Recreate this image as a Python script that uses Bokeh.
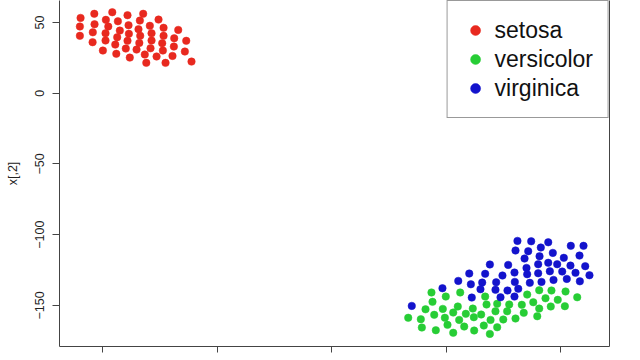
from bokeh.plotting import figure
from bokeh.models import (ColumnDataSource, Legend, LegendItem, LinearAxis,
                          FixedTicker, Range1d)
from bokeh.embed import file_html
from bokeh.resources import INLINE

species = ["setosa", "versicolor", "virginica"]
colors = ["#E8291F", "#27CD35", "#1313CC"]

setosa_x = [-21.92, -21.98, -21.98, -20.72, -20.70, -20.85, -20.87, -19.97, -19.71, -19.50,
            -19.74, -19.74, -19.15, -18.66, -18.49, -18.72, -18.89, -18.80, -17.82, -17.73,
            -17.70, -17.82, -17.97, -17.62, -16.74, -16.45, -16.86, -16.71, -16.79, -17.03,
            -15.87, -15.72, -15.72, -15.81, -16.31, -16.18, -15.11, -14.67, -14.67, -14.79,
            -14.73, -15.28, -14.50, -13.39, -13.74, -13.77, -13.89, -12.69, -12.81, -12.23]
setosa_y = [53.3, 47.2, 40.6, 56.2, 48.8, 43.1, 36.1, 30.2, 51.9, 47.2,
            42.4, 37.3, 57.3, 50.9, 44.3, 39.6, 34.4, 27.9, 55.2, 48.1,
            42.0, 37.1, 31.6, 25.2, 51.4, 56.2, 45.3, 40.6, 35.6, 30.9,
            47.7, 42.4, 37.3, 31.8, 27.4, 21.5, 52.1, 46.3, 40.6, 35.4,
            30.2, 26.0, 21.5, 44.8, 38.9, 33.0, 26.4, 37.1, 29.5, 22.4]

versicolor_x = [8.73, 9.98, 11.24, 8.82, 13.42, 17.09, 18.14, 19.21, 20.44, 21.46,
                18.69, 19.76, 8.21, 9.72, 11.03, 12.34, 13.54, 14.47, 15.52, 16.62,
                17.62, 18.14, 19.15, 20.38, 6.70, 7.80, 8.97, 9.90, 10.63, 11.73,
                12.43, 13.07, 14.32, 15.34, 16.79, 17.97, 16.07, 15.00, 13.89, 11.15,
                7.89, 9.11, 10.13, 11.59, 10.63, 12.46, 13.30, 13.83, 14.47]
versicolor_y = [-140.9, -143.8, -140.9, -147.5, -143.8, -142.4, -139.3, -139.5, -140.2, -144.3,
                -145.0, -146.1, -152.8, -152.5, -150.8, -152.3, -149.4, -148.9, -149.4, -149.6,
                -147.8, -152.3, -150.8, -150.6, -158.8, -159.8, -156.7, -158.8, -155.1, -156.0,
                -158.4, -156.5, -154.2, -154.2, -155.3, -157.7, -159.3, -160.0, -160.3, -160.3,
                -165.7, -167.6, -163.8, -165.0, -169.4, -167.8, -164.3, -170.2, -165.5]

virginica_x = [16.24, 17.44, 18.93, 18.28, 16.07, 17.18, 19.33, 20.90, 22.01, 18.17,
               16.86, 20.29, 21.66, 13.83, 15.43, 18.05, 18.93, 19.71, 20.87, 22.16,
               17.03, 12.03, 13.42, 14.93, 15.98, 17.09, 18.05, 19.07, 20.15, 21.31,
               22.53, 11.07, 12.17, 13.16, 14.38, 16.01, 17.32, 18.34, 19.39, 20.55,
               21.69, 9.69, 13.01, 14.32, 15.37, 16.31, 12.25, 14.76, 15.98, 7.01]
virginica_y = [-104.4, -104.7, -105.4, -109.1, -111.2, -111.7, -112.9, -107.9, -107.9, -115.3,
               -116.9, -116.4, -114.8, -121.1, -121.4, -120.9, -119.9, -120.9, -121.9, -122.3,
               -123.5, -127.5, -127.7, -128.9, -126.8, -128.0, -127.3, -125.9, -126.1, -127.0,
               -128.7, -132.7, -135.1, -133.9, -133.7, -133.4, -134.1, -133.4, -132.0, -131.3,
               -133.0, -137.9, -138.6, -139.0, -139.5, -138.3, -144.5, -144.3, -143.8, -150.4]

y_ticks = [-150, -100, -50, 0, 50]
x_ticks = [-20, -10, 0, 10, 20]
y_label = "x[,2]"

FONT = "Liberation Sans"
AXIS_COLOR = "#444444"

p = figure(width=640, height=360, output_backend="svg", toolbar_location=None,
           x_range=Range1d(-23.76, 24.28), y_range=Range1d(-179.1, 65.6),
           min_border_left=59, min_border_right=31, min_border_top=0,
           min_border_bottom=14, background_fill_color="white",
           border_fill_color="white")
p.outline_line_color = None
p.grid.visible = False

# left axis
ya = p.yaxis[0]
ya.ticker = FixedTicker(ticks=y_ticks)
ya.axis_label = y_label
ya.axis_label_text_font = FONT
ya.axis_label_text_font_size = "12.5px"
ya.axis_label_text_font_style = "normal"
ya.axis_label_text_color = "#222222"
ya.axis_label_standoff = 13
ya.major_label_orientation = "vertical"
ya.major_label_text_font = FONT
ya.major_label_text_font_size = "12.5px"
ya.major_label_text_color = "#222222"
ya.major_label_standoff = 8
ya.major_tick_out = 7
ya.major_tick_in = 0
ya.minor_tick_out = 0
ya.minor_tick_in = 0
ya.axis_line_color = AXIS_COLOR
ya.major_tick_line_color = AXIS_COLOR

# bottom axis (labels fall outside the photographed area)
xa = p.xaxis[0]
xa.ticker = FixedTicker(ticks=x_ticks)
xa.major_label_overrides = {t: "" for t in x_ticks}
xa.major_label_text_font_size = "0px"
xa.major_label_standoff = 0
xa.major_tick_out = 6
xa.major_tick_in = 0
xa.minor_tick_out = 0
xa.minor_tick_in = 0
xa.axis_line_color = AXIS_COLOR
xa.major_tick_line_color = AXIS_COLOR

# right edge of the box
ra = LinearAxis(ticker=FixedTicker(ticks=[]), major_tick_out=0, major_tick_in=0,
                minor_tick_out=0, minor_tick_in=0, axis_line_color=AXIS_COLOR,
                major_label_text_font_size="0px", major_label_standoff=0)
p.add_layout(ra, "right")

data = [(setosa_x, setosa_y), (versicolor_x, versicolor_y), (virginica_x, virginica_y)]
renderers = []
for (xs, ys), c in zip(data, colors):
    src = ColumnDataSource(dict(x=xs, y=ys))
    r = p.scatter("x", "y", source=src, size=7.5, fill_color=c, line_color=c,
                  line_width=0.5)
    renderers.append(r)

legend = Legend(items=[LegendItem(label=s, renderers=[r]) for s, r in zip(species, renderers)],
                location="top_right", margin=0, padding=15, spacing=1,
                glyph_width=25, glyph_height=28, label_height=28, label_standoff=7,
                label_text_font=FONT, label_text_font_size="23px",
                label_text_color="#111111",
                border_line_color="#333333", border_line_width=1,
                background_fill_color="white", background_fill_alpha=1)
p.add_layout(legend)

open("out.html", "w").write(file_html(p, INLINE))
